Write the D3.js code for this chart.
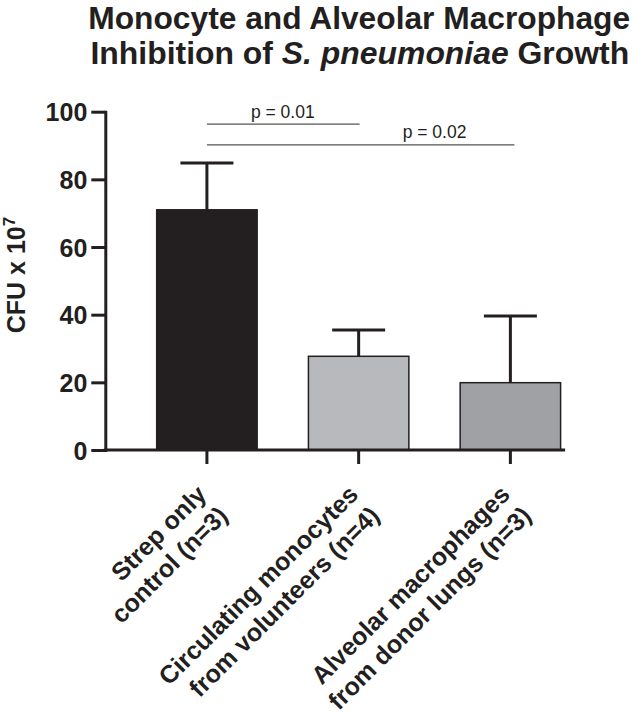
<!DOCTYPE html>
<html><head><meta charset="utf-8">
<script src="https://cdn.jsdelivr.net/npm/d3@7"></script>
<style>body{margin:0;background:#fff}svg{display:block}</style></head>
<body><svg id="c" width="633" height="712"></svg>
<script>
// ---- data ----
const categories = ["Strep only control (n=3)", "Circulating monocytes from volunteers (n=4)", "Alveolar macrophages from donor lungs (n=3)"];
const labelLines = [["Strep only", "control (n=3)"], ["Circulating monocytes", "from volunteers (n=4)"], ["Alveolar macrophages", "from donor lungs (n=3)"]];
const means = [71, 27.7, 19.9];
const errUpper = [84.8, 35.5, 39.6];
const barColors = ["#231f20", "#b8b9bc", "#a0a1a4"];
const yTicks = [0, 20, 40, 60, 80, 100];
const compFrom = [0, 0];
const compTo = [1, 2];
const compLevel = [96.3, 90.2];
const compText = ["p = 0.01", "p = 0.02"];
const compTextBetween = [[0, 1], [1, 2]];
const yLabel = "CFU x 10";
const yLabelSup = "7";

const FONT = "'Liberation Sans', Arial, Helvetica, sans-serif";
const svg = d3.select("#c");
const ink = "#231f20";

const y = d3.scaleLinear().domain([0, 100]).range([450, 111.7]);
const x = d3.scaleBand().domain(d3.range(categories.length)).range([105.4, 611.9]).padding(0.338);
const cx = i => x(i) + x.bandwidth() / 2;

// title
const titleSpec = [
  {x: 88.3, y: 28.5, w: 542, parts: [["Monocyte and Alveolar Macrophage", false]]},
  {x: 90.5, y: 64, w: 539, parts: [["Inhibition of ", false], ["S. pneumoniae", true], [" Growth", false]]}
];
titleSpec.forEach(s => {
  const t = svg.append("text").attr("font-family", FONT)
    .attr("font-weight", "bold").attr("font-size", 32).attr("fill", ink).attr("x", 0).attr("y", 0);
  s.parts.forEach(p => t.append("tspan").text(p[0]).attr("font-style", p[1] ? "italic" : "normal"));
  const bb = t.node().getBBox();
  const k = s.w / bb.width;
  t.attr("transform", `translate(${s.x - bb.x * k},${s.y}) scale(${k},1)`);
});

// bars
svg.append("g").selectAll("rect").data(means).join("rect")
  .attr("x", (d, i) => x(i)).attr("width", x.bandwidth())
  .attr("y", d => y(d)).attr("height", d => y(0) - y(d))
  .attr("fill", (d, i) => barColors[i]).attr("stroke", ink).attr("stroke-width", 1.5);

// error bars
const eb = svg.append("g").attr("stroke", ink).attr("stroke-width", 3);
means.forEach((m, i) => {
  eb.append("line").attr("x1", cx(i)).attr("x2", cx(i)).attr("y1", y(m)).attr("y2", y(errUpper[i]));
  eb.append("line").attr("x1", cx(i) - 26.5).attr("x2", cx(i) + 26.5).attr("y1", y(errUpper[i])).attr("y2", y(errUpper[i]));
});

// y axis
const ya = svg.append("g").attr("transform", "translate(105.3,0)")
  .call(d3.axisLeft(y).tickValues(yTicks).tickSize(14).tickSizeOuter(0).tickPadding(4));
ya.select(".domain").attr("stroke", ink).attr("stroke-width", 3).attr("stroke-linecap", "square");
ya.selectAll(".tick line").attr("stroke", ink).attr("stroke-width", 3);
ya.selectAll(".tick text").attr("font-family", FONT).attr("font-weight", "bold").attr("font-size", 25).attr("fill", ink).attr("dy", "0.36em");

// x axis
const xEnd = x(categories.length - 1) + x.bandwidth() + 3;
svg.append("line").attr("x1", 105.3).attr("x2", xEnd).attr("y1", y(0)).attr("y2", y(0))
  .attr("stroke", ink).attr("stroke-width", 3).attr("stroke-linecap", "square");
svg.append("g").selectAll("line").data(categories).join("line")
  .attr("x1", (d, i) => cx(i)).attr("x2", (d, i) => cx(i)).attr("y1", y(0)).attr("y2", y(0) + 14)
  .attr("stroke", ink).attr("stroke-width", 3);

// x labels
labelLines.forEach((lines, i) => {
  const g = svg.append("g").attr("transform", `translate(${cx(i) + 1},${y(0) + 46}) rotate(-45)`);
  lines.forEach((ln, k) => g.append("text").text(ln).attr("x", 0).attr("y", k * 30)
    .attr("text-anchor", "end").attr("font-family", FONT).attr("font-weight", "bold")
    .attr("font-size", 25).attr("fill", ink));
});

// y label
const yl = svg.append("text").attr("transform", "translate(25,275) rotate(-90)")
  .attr("text-anchor", "middle").attr("font-family", FONT).attr("font-weight", "bold")
  .attr("font-size", 25).attr("fill", ink);
yl.append("tspan").text(yLabel);
yl.append("tspan").text(yLabelSup).attr("font-size", 17).attr("dy", "-0.6em");

// significance
compFrom.forEach((f, k) => {
  const yy = y(compLevel[k]);
  svg.append("line").attr("x1", cx(f)).attr("x2", cx(compTo[k]) + (k === 1 ? 4 : 1)).attr("y1", yy).attr("y2", yy)
    .attr("stroke", "#555").attr("stroke-width", 1.2);
  const [a, b] = compTextBetween[k];
  svg.append("text").text(compText[k]).attr("x", (cx(a) + cx(b)) / 2).attr("y", yy - 6.5)
    .attr("text-anchor", "middle").attr("font-family", FONT).attr("font-size", 17.5).attr("fill", "#231f20");
});
</script></body></html>
